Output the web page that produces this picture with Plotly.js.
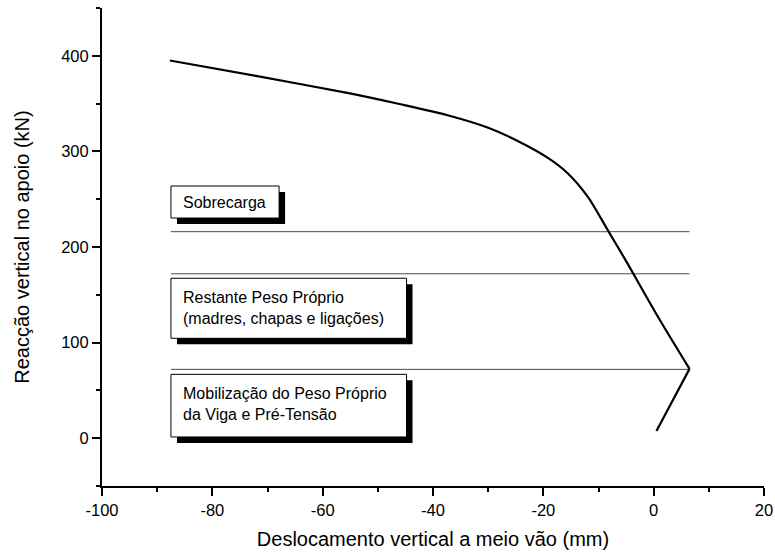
<!DOCTYPE html>
<html>
<head>
<meta charset="utf-8">
<script src="https://cdn.plot.ly/plotly-3.0.1.min.js"></script>
<style>html,body{margin:0;padding:0;background:#fff;}#chart{width:775px;height:553px;}</style>
</head>
<body>
<div id="chart"></div>
<script>
// Curve: vertical reaction at support vs mid-span vertical displacement
const dispMM = [-87.7, -71.6, -55.3, -46.3, -37.2, -30.0, -25.0, -19.1, -15.5, -11.9, -8.3, -5.25, 0.8, 6.5, 0.5];
const reactionKN = [395.1, 378.4, 360.9, 349.8, 337.6, 324.8, 312.0, 293, 276.7, 252.2, 217.4, 187.8, 126.8, 72.5, 7.5];

// Load-stage levels (horizontal lines)
const stageLevels = [216, 172, 72];
const stageXStart = -87.5;
const stageXEnd = 6.5;

// Stage labels
const stageLabels = [
  "Sobrecarga",
  "Restante Peso Próprio<br>(madres, chapas e ligações)",
  "Mobilização do Peso Próprio<br>da Viga e Pré-Tensão"
];

const xTickVals = [-100, -80, -60, -40, -20, 0, 20];
const xTickText = ['-100', '-80', '-60', '-40', '-20', '0', '20'];
const yTickVals = [0, 100, 200, 300, 400];
const yTickText = ['0', '100', '200', '300', '400'];

const FONT = '"Liberation Sans", Arial, sans-serif';

const traces = [];
stageLevels.forEach(function (lv) {
  traces.push({
    x: [stageXStart, stageXEnd], y: [lv, lv], mode: 'lines', type: 'scatter',
    line: {color: '#4a4a4a', width: 1}, hoverinfo: 'skip', showlegend: false
  });
});
const n = dispMM.length;
// loading branch (smooth) up to the peak-displacement vertex
traces.push({
  x: dispMM.slice(0, n - 1), y: reactionKN.slice(0, n - 1), mode: 'lines', type: 'scatter',
  line: {color: '#000', width: 2.2, shape: 'spline', smoothing: 0.8}, showlegend: false
});
// final branch
traces.push({
  x: dispMM.slice(n - 2), y: reactionKN.slice(n - 2), mode: 'lines', type: 'scatter',
  line: {color: '#000', width: 2.2}, showlegend: false
});

// label boxes (layout decoration), in data units: [x0, x1, yTop, yBottom, textY]
const boxes = [
  [-87.5, -67.9, 263.8, 230.3, 247],
  [-87.5, -44.8, 167.3, 104.5, 136.5],
  [-87.5, -44.8, 66.8, 1.3, 35.5]
];
const shX = 1.09, shY = 6.3;
const shapes = [];
const annotations = [];
boxes.forEach(function (b, i) {
  shapes.push({type: 'rect', xref: 'x', yref: 'y', x0: b[0] + shX, x1: b[1] + shX, y0: b[3] - shY, y1: b[2] - shY,
    fillcolor: '#000', line: {width: 0}, layer: 'above'});
  shapes.push({type: 'rect', xref: 'x', yref: 'y', x0: b[0], x1: b[1], y0: b[3], y1: b[2],
    fillcolor: '#fff', line: {color: '#000', width: 1}, layer: 'above'});
  annotations.push({xref: 'x', yref: 'y', x: b[0] + 1.8, y: b[4], xanchor: 'left', yanchor: 'middle',
    align: 'left', showarrow: false, text: stageLabels[i],
    font: {family: FONT, size: 16, color: '#000'}});
});

const layout = {
  width: 775, height: 553,
  margin: {l: 102, r: 11, t: 8, b: 67},
  paper_bgcolor: '#fff', plot_bgcolor: '#fff',
  font: {family: FONT, color: '#000'},
  showlegend: false,
  xaxis: {
    range: [-100, 20], tickvals: xTickVals, ticktext: xTickText, ticks: 'outside', ticklen: 8, tickwidth: 2, tickcolor: '#000',
    showline: true, linewidth: 2, linecolor: '#000', showgrid: false, zeroline: false,
    tickfont: {family: FONT, size: 16.5, color: '#000'},
    minor: {dtick: 10, tick0: 0, ticks: 'outside', ticklen: 4, tickwidth: 2, tickcolor: '#000', showgrid: false},
    title: {text: 'Deslocamento vertical a meio vão (mm)', font: {family: FONT, size: 20, color: '#000'}, standoff: 14}
  },
  yaxis: {
    range: [-50, 450], tickvals: yTickVals, ticktext: yTickText, ticks: 'outside', ticklen: 8, tickwidth: 2, tickcolor: '#000',
    showline: true, linewidth: 2, linecolor: '#000', showgrid: false, zeroline: false,
    tickfont: {family: FONT, size: 16.5, color: '#000'},
    minor: {dtick: 50, tick0: 0, ticks: 'outside', ticklen: 4, tickwidth: 2, tickcolor: '#000', showgrid: false},
    title: {text: 'Reacção vertical no apoio (kN)', font: {family: FONT, size: 20, color: '#000'}, standoff: 26}
  },
  shapes: shapes,
  annotations: annotations
};

Plotly.newPlot('chart', traces, layout, {displayModeBar: false, staticPlot: true});
</script>
</body>
</html>
